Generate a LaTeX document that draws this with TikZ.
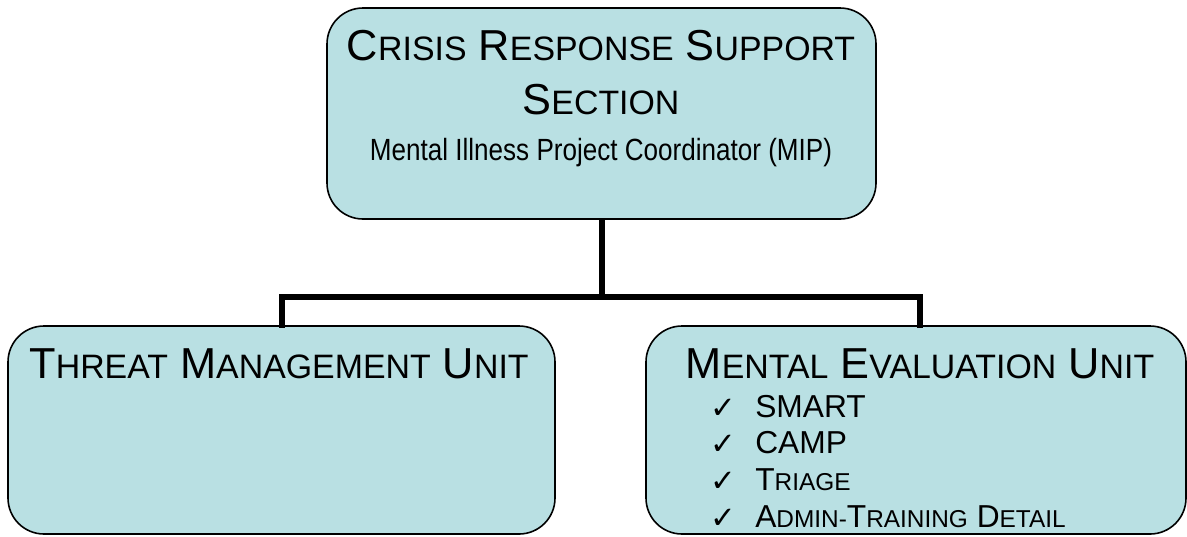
\documentclass[tikz,border=0pt]{standalone}
\usepackage{fontspec}
\setmainfont{Liberation Sans}
\newfontfamily\narrowfont{Liberation Sans}[FakeStretch=0.85]
\newfontfamily\symfont{DejaVu Sans}
\definecolor{boxfill}{HTML}{B9E0E3}
\newcommand\Hsc[2]{{\fontsize{32.5}{39}\selectfont #1}{\fontsize{25.4}{30}\selectfont #2}}
\newcommand\Lsc[2]{{\fontsize{23.8}{28}\selectfont #1}{\fontsize{18.3}{22}\selectfont #2}}
\tikzset{
  unitbox/.style={draw=black, line width=1.2pt, fill=boxfill, rounded corners=27pt, inner sep=0pt},
  txt/.style={inner sep=0pt, anchor=base},
  hdr/.style={txt, font=\fontsize{32.5}{39}\selectfont},
  item/.style={inner sep=0pt, anchor=base west, font=\fontsize{23.8}{28}\selectfont},
  tick/.style={inner sep=0pt, anchor=base west, font=\symfont\fontsize{23}{27}\selectfont},
  link/.style={draw=black, line width=4.5pt}
}
\begin{document}
\begin{tikzpicture}[x=0.75pt, y=-0.75pt]
\useasboundingbox (0,0) rectangle (1187,536);
% boxes
\node[unitbox, minimum width=549*0.75pt, minimum height=211*0.75pt] (crs) at (601.5,113.5) {};
\node[unitbox, minimum width=547*0.75pt, minimum height=208*0.75pt] (tmu) at (281.5,430) {};
\node[unitbox, minimum width=540*0.75pt, minimum height=208*0.75pt] (meu) at (916,430) {};
% connectors
\coordinate (jl) at (282,297);
\coordinate (jr) at (920,297);
\draw[link] (crs.south) -- (crs.south |- jl);
\draw[link, line cap=rect] (tmu.north -| jl) |- (jr) -- (meu.north -| jr);
% top box text
\node[hdr] (crs1) at (601,60) {\Hsc{C}{RISIS} \Hsc{R}{ESPONSE} \Hsc{S}{UPPORT}};
\node[hdr] (crs2) at (601,114) {\Hsc{S}{ECTION}};
\node[txt, font=\narrowfont\fontsize{23}{27}\selectfont] (crs3) at (601,160) {Mental Illness Project Coordinator (MIP)};
% left box text
\node[hdr] (tmu1) at (279,378) {\Hsc{T}{HREAT} \Hsc{M}{ANAGEMENT} \Hsc{U}{NIT}};
% right box text
\node[hdr] (meu1) at (920,378) {\Hsc{M}{ENTAL} \Hsc{E}{VALUATION} \Hsc{U}{NIT}};
\node[tick] (c1) at (710,418) {✓};
\node[tick] (c2) at (710,454) {✓};
\node[tick] (c3) at (710,491) {✓};
\node[tick] (c4) at (710,528) {✓};
\node[item] (i1) at (755,417) {SMART};
\node[item] (i2) at (755,453) {CAMP};
\node[item] (i3) at (755,490) {\Lsc{T}{RIAGE}};
\node[item] (i4) at (755,527) {\Lsc{A}{DMIN-}\Lsc{T}{RAINING} \Lsc{D}{ETAIL}};
\end{tikzpicture}
\end{document}
